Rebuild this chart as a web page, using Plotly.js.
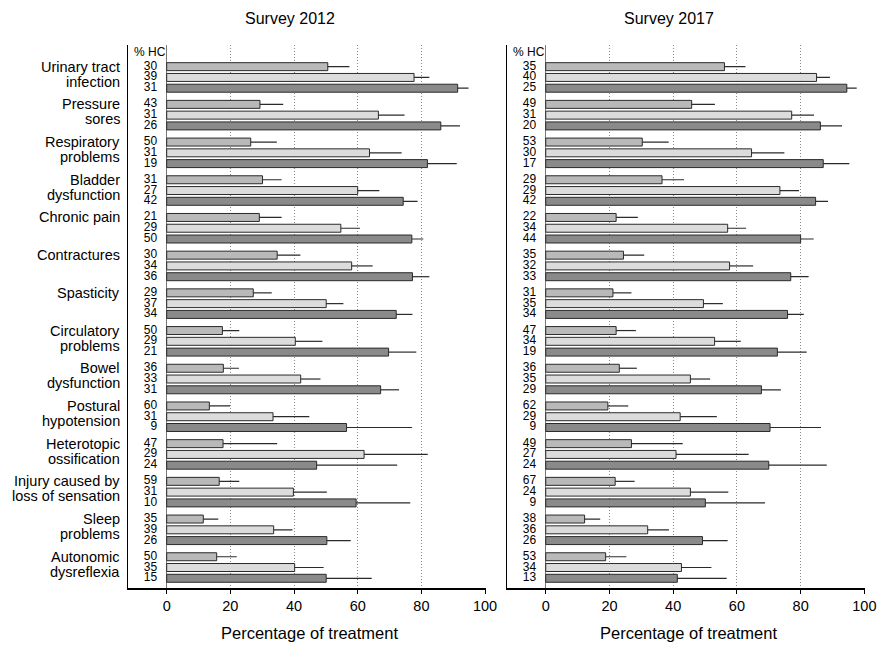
<!DOCTYPE html>
<html>
<head>
<meta charset="utf-8">
<script src="https://cdn.plot.ly/plotly-3.0.1.min.js"></script>
<style>html,body{margin:0;padding:0;background:#fff;}#chart{width:888px;height:645px;}</style>
</head>
<body>
<div id="chart"></div>
<script>
// ---- Data ----
const categories = ["Urinary tract<br>infection", "Pressure<br>sores", "Respiratory<br>problems", "Bladder<br>dysfunction", "Chronic pain", "Contractures", "Spasticity", "Circulatory<br>problems", "Bowel<br>dysfunction", "Postural<br>hypotension", "Heterotopic<br>ossification", "Injury caused by<br>loss of sensation", "Sleep<br>problems", "Autonomic<br>dysreflexia"];
const panelTitles = ["Survey 2012", "Survey 2017"];
const xTitle = "Percentage of treatment";
const hcHeader = "% HC";
const xTicks = [0, 20, 40, 60, 80, 100];

// Survey 2012
const hc2012A = [30, 43, 50, 31, 21, 30, 29, 50, 36, 60, 47, 59, 35, 50];
const hc2012B = [39, 31, 31, 27, 29, 34, 37, 29, 33, 31, 29, 31, 39, 35];
const hc2012C = [31, 26, 19, 42, 50, 36, 34, 21, 31, 9, 24, 10, 26, 15];
const val2012A = [50.6, 29.3, 26.4, 30.1, 29.1, 34.7, 27.2, 17.5, 17.8, 13.4, 17.7, 16.5, 11.5, 15.7];
const up2012A = [57.4, 36.6, 34.6, 36.1, 36.1, 42.0, 33.0, 22.8, 22.7, 19.9, 34.7, 22.8, 16.2, 22.0];
const val2012B = [77.7, 66.5, 63.7, 60.0, 54.7, 58.1, 50.1, 40.4, 42.1, 33.4, 62.0, 39.8, 33.6, 40.2];
const up2012B = [82.5, 74.7, 73.8, 66.8, 60.7, 64.7, 55.5, 48.9, 48.3, 44.8, 82.0, 50.3, 39.5, 49.3];
const val2012C = [91.4, 86.1, 81.9, 74.3, 77.0, 77.2, 72.1, 69.7, 67.2, 56.5, 47.1, 59.5, 50.3, 50.1];
const up2012C = [94.8, 92.1, 91.1, 78.8, 80.6, 82.5, 77.2, 78.4, 73.0, 77.1, 72.4, 76.5, 57.8, 64.4];

// Survey 2017
const hc2017A = [35, 49, 53, 29, 22, 35, 31, 47, 36, 62, 49, 67, 38, 53];
const hc2017B = [40, 31, 30, 29, 34, 32, 35, 34, 35, 29, 27, 24, 36, 34];
const hc2017C = [25, 20, 17, 42, 44, 33, 34, 19, 29, 9, 24, 9, 26, 13];
const val2017A = [56.1, 45.8, 30.3, 36.5, 22.1, 24.4, 21.1, 22.1, 23.1, 19.5, 26.9, 21.8, 12.2, 18.8];
const up2017A = [62.7, 53.1, 38.6, 43.4, 28.9, 30.9, 26.9, 28.3, 28.6, 25.9, 43.0, 27.9, 17.1, 25.3];
const val2017B = [85.0, 77.2, 64.6, 73.5, 57.1, 57.7, 49.5, 53.0, 45.4, 42.2, 40.9, 45.4, 32.0, 42.6];
const up2017B = [89.2, 84.2, 74.9, 79.5, 62.9, 65.1, 55.6, 61.2, 51.6, 53.7, 63.7, 57.3, 38.7, 52.0];
const val2017C = [94.5, 86.2, 87.1, 84.7, 80.0, 76.9, 75.9, 72.7, 67.7, 70.4, 70.0, 50.1, 49.2, 41.3];
const up2017C = [97.6, 93.0, 95.3, 88.6, 84.1, 82.5, 81.0, 81.9, 73.8, 86.4, 88.2, 68.8, 57.1, 56.8];

// ---- Styles ----
const FONT = "Liberation Sans, Arial, Helvetica, sans-serif";
const barColors = ["#b9b9b9", "#dcdcdc", "#8a8a8a"];
const GROUP = 3.5;          // slot units per group
const LINE_STEP = 1.393;    // label line spacing in slot units
const BAR_W = 0.74;
const Y_RANGE = [48.43, -2.01];
const Y_DOMAIN = [0.0879, 0.9302];

// slot position -> paper y (for labels placed outside the x range)
function slotToPaper(v) {
  const t = (v - Y_RANGE[1]) / (Y_RANGE[0] - Y_RANGE[1]);
  return Y_DOMAIN[1] - t * (Y_DOMAIN[1] - Y_DOMAIN[0]);
}

const panels = [
  { vals: [val2012A, val2012B, val2012C], ups: [up2012A, up2012B, up2012C], hcs: [hc2012A, hc2012B, hc2012C], xa: 'x', ya: 'y' },
  { vals: [val2017A, val2017B, val2017C], ups: [up2017A, up2017B, up2017C], hcs: [hc2017A, hc2017B, hc2017C], xa: 'x2', ya: 'y2' }
];

const traces = [];
const annotations = [];

panels.forEach((p, pi) => {
  for (let s = 0; s < 3; s++) {
    const ys = categories.map((_, g) => g * GROUP + s);
    traces.push({
      type: 'bar', orientation: 'h',
      x: p.vals[s], y: ys, width: BAR_W,
      xaxis: p.xa, yaxis: p.ya,
      marker: { color: barColors[s], line: { color: '#2a2a2a', width: 1 } },
      error_x: {
        type: 'data', symmetric: false,
        array: p.ups[s].map((u, i) => u - p.vals[s][i]),
        arrayminus: p.vals[s].map(() => 0),
        width: 0, color: '#2a2a2a', thickness: 1.2
      },
      hoverinfo: 'skip', showlegend: false
    });
    traces.push({
      type: 'scatter', mode: 'text',
      x: ys.map(() => -3.0), y: ys,
      text: p.hcs[s].map(String),
      textposition: 'middle left',
      textfont: { family: FONT, size: 12, color: '#000' },
      xaxis: p.xa, yaxis: p.ya, cliponaxis: false,
      hoverinfo: 'skip', showlegend: false
    });
  }
  annotations.push({
    xref: p.xa, yref: p.ya, x: -10.8, y: -1.37, text: hcHeader,
    xanchor: 'left', yanchor: 'middle', showarrow: false,
    font: { family: FONT, size: 12, color: '#000' }
  });
});

// Category labels (left panel only), placed in paper coords left of the axis
categories.forEach((c, g) => {
  c.split('<br>').forEach((line, k) => {
    annotations.push({
      xref: 'paper', yref: 'paper', x: 122 / 888, y: slotToPaper(g * GROUP + k * LINE_STEP),
      text: line, xanchor: 'right', yanchor: 'middle', showarrow: false,
      font: { family: FONT, size: 14.5, color: '#000' }
    });
  });
});

// Panel titles & axis titles
annotations.push({ xref: 'paper', yref: 'paper', x: 290 / 888, y: 1 - 18 / 645, text: panelTitles[0], showarrow: false, xanchor: 'center', yanchor: 'middle', font: { family: FONT, size: 16, color: '#000' } });
annotations.push({ xref: 'paper', yref: 'paper', x: 669 / 888, y: 1 - 18 / 645, text: panelTitles[1], showarrow: false, xanchor: 'center', yanchor: 'middle', font: { family: FONT, size: 16, color: '#000' } });
annotations.push({ xref: 'paper', yref: 'paper', x: 309 / 888, y: 1 - 633 / 645, text: xTitle, showarrow: false, xanchor: 'center', yanchor: 'middle', font: { family: FONT, size: 16.5, color: '#000' } });
annotations.push({ xref: 'paper', yref: 'paper', x: 688 / 888, y: 1 - 633 / 645, text: xTitle, showarrow: false, xanchor: 'center', yanchor: 'middle', font: { family: FONT, size: 16.5, color: '#000' } });

const xBase = {
  range: [-12.06, 100.3], tickvals: xTicks, ticktext: xTicks.map(String),
  showline: true, linecolor: '#000', linewidth: 1.2,
  ticks: 'outside', ticklen: 4, tickcolor: '#000', tickwidth: 1,
  tickfont: { family: FONT, size: 14.5, color: '#000' },
  showgrid: true, gridcolor: '#8a8a8a', griddash: '1px,2px', gridwidth: 1,
  zeroline: true, zerolinecolor: '#777', zerolinewidth: 1,
  fixedrange: true
};
const yBase = {
  range: Y_RANGE, domain: Y_DOMAIN,
  showline: true, linecolor: '#000', linewidth: 1.2,
  showticklabels: false, ticks: '', showgrid: false, zeroline: false,
  fixedrange: true
};

const layout = {
  width: 888, height: 645,
  margin: { l: 0, r: 0, t: 0, b: 0 },
  paper_bgcolor: '#fff', plot_bgcolor: '#fff',
  barmode: 'overlay', showlegend: false,
  font: { family: FONT, color: '#000' },
  xaxis: Object.assign({}, xBase, { domain: [0.14448, 0.54730], anchor: 'y' }),
  xaxis2: Object.assign({}, xBase, { domain: [0.57128, 0.97444], anchor: 'y2' }),
  yaxis: Object.assign({}, yBase, { anchor: 'x' }),
  yaxis2: Object.assign({}, yBase, { anchor: 'x2' }),
  annotations: annotations
};

Plotly.newPlot('chart', traces, layout, { staticPlot: true, displayModeBar: false });
</script>
</body>
</html>
